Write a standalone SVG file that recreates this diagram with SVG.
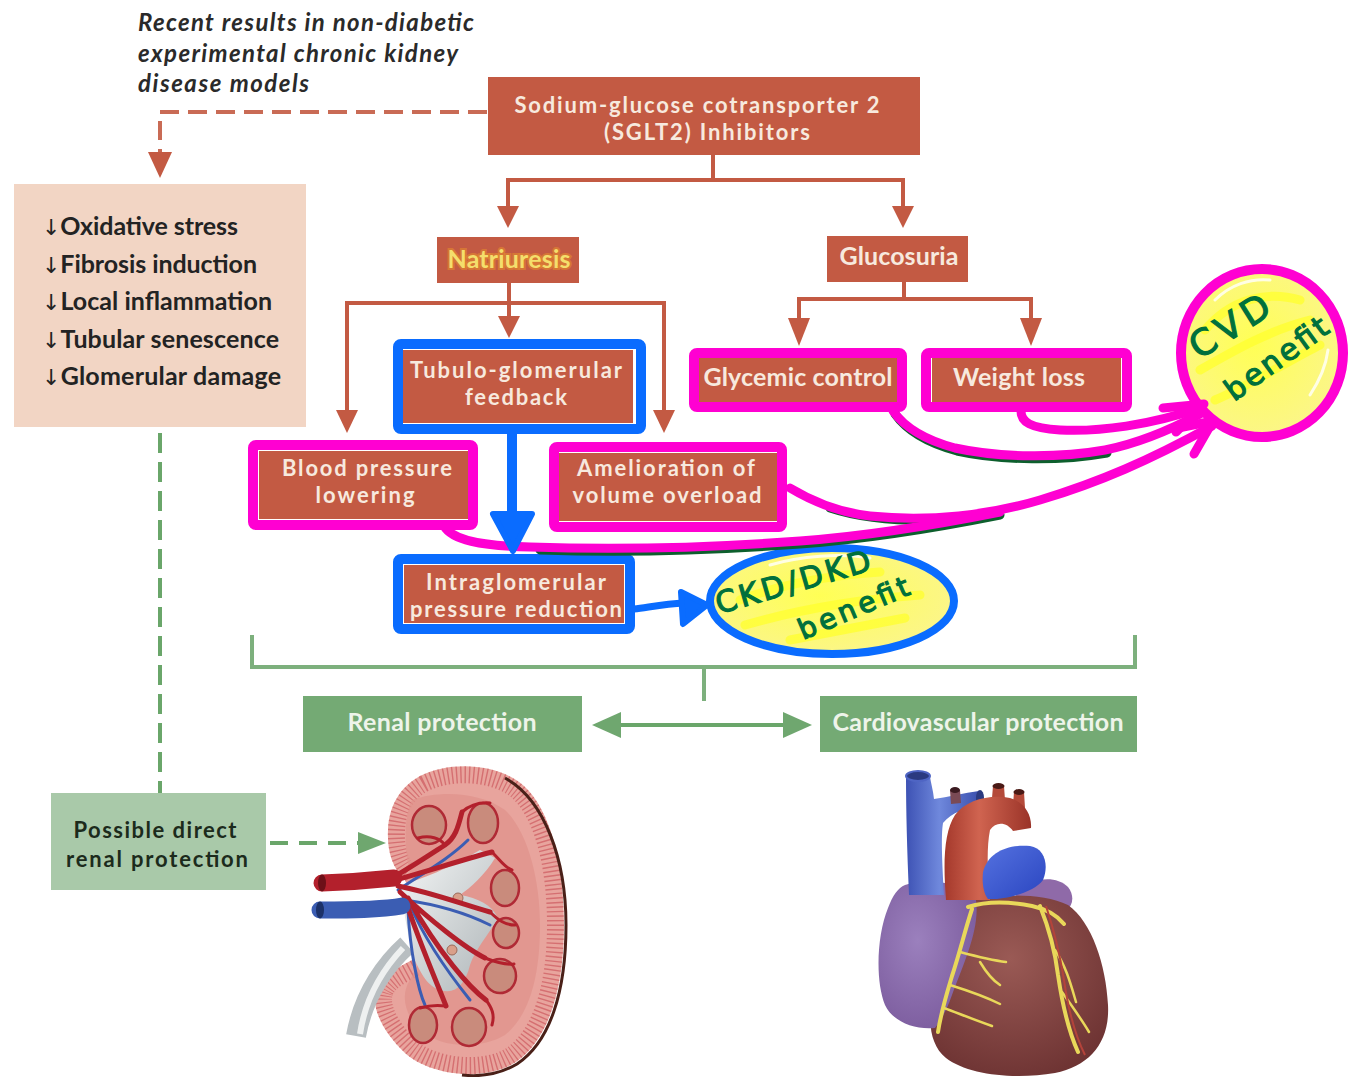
<svg xmlns="http://www.w3.org/2000/svg" width="1350" height="1077" viewBox="0 0 1350 1077">
<defs>
<style>
.lbl{font-family:Lato,"Open Sans","Liberation Sans",sans-serif;font-weight:700;font-size:25px;fill:#f7e9de;text-anchor:middle}
.two{font-size:22px}
.dk{font-family:Lato,"Open Sans","Liberation Sans",sans-serif;font-weight:700;font-size:25px;fill:#232323}
.hdr{font-family:Lato,"Open Sans","Liberation Sans",sans-serif;font-weight:700;font-style:italic;font-size:24px;fill:#2a2a2a}
.box{fill:#c35a43}
.ln{fill:none;stroke:#c35a43;stroke-width:4}
.ah{fill:#c35a43}
.gln{fill:none;stroke:#7db07d;stroke-width:4}
.gah{fill:#6fa76f}
.gbox{fill:#74aa74}
.glbl{font-family:Lato,"Open Sans","Liberation Sans",sans-serif;font-weight:700;font-size:25px;fill:#eef4ea;text-anchor:middle}
.gdk{font-family:Lato,"Open Sans","Liberation Sans",sans-serif;font-weight:700;font-size:22px;fill:#1c2b1c;text-anchor:middle}
.mag{fill:none;stroke:#ff00d2;stroke-width:10;stroke-linejoin:round}
.magc{fill:none;stroke:#ff00d2;stroke-width:9;stroke-linecap:round;stroke-linejoin:round}
.shd{fill:none;stroke:#0d5f2d;stroke-width:9;stroke-linecap:round}
.blu{fill:none;stroke:#0a6cff;stroke-width:10;stroke-linejoin:round}
.hand{font-family:"DejaVu Sans","Liberation Sans",sans-serif;font-weight:400;fill:#00703c;stroke:#00703c;stroke-width:1.2}
.hl{fill:none;stroke:#ffff2e;stroke-width:9;stroke-linecap:round;opacity:.75}
.wh{fill:none;stroke:#ffffff;stroke-width:3;stroke-linecap:round;opacity:.8}
.yel{fill:none;stroke:#e9d85a;stroke-linecap:round;stroke-linejoin:round}
.art{fill:none;stroke:#b3202c;stroke-linecap:round}
.vein{fill:none;stroke:#3b5db3;stroke-linecap:round}
.pyr{fill:#c98b7c;stroke:#b02a35;stroke-width:2.5}
</style>
<linearGradient id="pelvis" x1="0" y1="0" x2="1" y2="1">
<stop offset="0" stop-color="#f4f6f6"/><stop offset="1" stop-color="#aeb5b8"/>
</linearGradient>
<linearGradient id="vcBlue" x1="0" y1="0" x2="1" y2="0">
<stop offset="0" stop-color="#3d52b4"/><stop offset=".45" stop-color="#6f88dc"/><stop offset="1" stop-color="#3a4fae"/>
</linearGradient>
<linearGradient id="paBlue" x1="0" y1="0" x2="1" y2="1">
<stop offset="0" stop-color="#5572e0"/><stop offset="1" stop-color="#2a45c0"/>
</linearGradient>
<linearGradient id="aortaRed" x1="0" y1="0" x2="1" y2="0">
<stop offset="0" stop-color="#a5392c"/><stop offset=".4" stop-color="#d06450"/><stop offset="1" stop-color="#9a3328"/>
</linearGradient>
<radialGradient id="ventr" cx=".45" cy=".35" r=".75">
<stop offset="0" stop-color="#9a5a55"/><stop offset="1" stop-color="#6a3030"/>
</radialGradient>
<radialGradient id="atrium" cx=".4" cy=".4" r=".7">
<stop offset="0" stop-color="#9b80bd"/><stop offset="1" stop-color="#7a5a9c"/>
</radialGradient>
<radialGradient id="yelFill" cx=".45" cy=".45" r=".6">
<stop offset="0" stop-color="#ffff55"/><stop offset="1" stop-color="#fbf58c"/>
</radialGradient>
<clipPath id="kclip">
<path d="M420,776 C452,760 500,764 524,786 C550,810 564,862 564,925 C564,990 548,1040 516,1062 C486,1082 430,1076 405,1053 C384,1033 368,1006 378,986 C386,972 400,967 412,960 C416,930 414,898 404,878 C392,868 387,850 388,830 C389,806 400,787 420,776 Z"/>
</clipPath>
</defs>

<rect width="1350" height="1077" fill="#ffffff"/>

<!-- header note -->
<g id="note">
<text class="hdr" x="138" y="31" textLength="336">Recent results in non-diabetic</text>
<text class="hdr" x="138" y="62" textLength="320">experimental chronic kidney</text>
<text class="hdr" x="138" y="92" textLength="171">disease models</text>
</g>

<!-- printed connectors -->
<g id="connectors">
<path d="M487,112 H160 V152" fill="none" stroke="#c96b55" stroke-width="4" stroke-dasharray="19 9"/>
<polygon class="ah" points="148,152 172,152 160,178"/>
<path class="ln" d="M713,155 V180 M506,180 H905 M508,180 V208 M903,180 V208"/>
<polygon class="ah" points="497,206 519,206 508,228"/>
<polygon class="ah" points="892,206 914,206 903,228"/>
<path class="ln" d="M509,283 V303 M345,303 H666 M347,303 V412 M509,303 V318 M664,303 V412"/>
<polygon class="ah" points="498,316 520,316 509,338"/>
<polygon class="ah" points="336,410 358,410 347,433"/>
<polygon class="ah" points="653,410 675,410 664,433"/>
<path class="ln" d="M904,282 V299 M797,299 H1033 M799,299 V320 M1031,299 V320"/>
<polygon class="ah" points="788,318 810,318 799,346"/>
<polygon class="ah" points="1020,318 1042,318 1031,346"/>
<path d="M160,433 V793" fill="none" stroke="#6aa66a" stroke-width="4" stroke-dasharray="20 9"/>
<path d="M270,843 H360" fill="none" stroke="#6aa66a" stroke-width="4" stroke-dasharray="18 11"/>
<polygon class="gah" points="358,832 386,843 358,854"/>
<path class="gln" d="M252,635 V667 H1135 V635 M704,667 V701"/>
<path d="M616,725 H790" fill="none" stroke="#6aa66a" stroke-width="4"/>
<polygon class="gah" points="592,725 621,712 621,738"/>
<polygon class="gah" points="812,725 783,712 783,738"/>
</g>

<!-- nodes -->
<g id="sglt2">
<rect class="box" x="488" y="77" width="432" height="78"/>
<text class="lbl two" x="697" y="113" textLength="365">Sodium-glucose cotransporter 2</text>
<text class="lbl two" x="707" y="140" textLength="206">(SGLT2) Inhibitors</text>
</g>

<g id="kidney-effects">
<rect x="14" y="184" width="292" height="243" fill="#f2d5c4"/>
<text class="dk" x="42" y="235" textLength="196"><tspan font-family="DejaVu Sans" font-weight="400" font-size="22">↓</tspan>Oxidative stress</text>
<text class="dk" x="42" y="273" textLength="215"><tspan font-family="DejaVu Sans" font-weight="400" font-size="22">↓</tspan>Fibrosis induction</text>
<text class="dk" x="42" y="310" textLength="230"><tspan font-family="DejaVu Sans" font-weight="400" font-size="22">↓</tspan>Local inflammation</text>
<text class="dk" x="42" y="348" textLength="237"><tspan font-family="DejaVu Sans" font-weight="400" font-size="22">↓</tspan>Tubular senescence</text>
<text class="dk" x="42" y="385" textLength="239"><tspan font-family="DejaVu Sans" font-weight="400" font-size="22">↓</tspan>Glomerular damage</text>
</g>

<g id="natriuresis">
<rect class="box" x="437" y="237" width="142" height="46"/>
<text class="lbl" x="509" y="268" textLength="123" style="fill:#f4de6c;stroke:#e8902c;stroke-width:4;stroke-opacity:.55;paint-order:stroke">Natriuresis</text>
</g>

<g id="glucosuria">
<rect class="box" x="827" y="236" width="141" height="46"/>
<text class="lbl" x="899" y="265" textLength="119">Glucosuria</text>
</g>

<g id="tg-feedback">
<rect class="box" x="403" y="350" width="230" height="73"/>
<text class="lbl two" x="516" y="378" textLength="212">Tubulo-glomerular</text>
<text class="lbl two" x="516" y="405" textLength="102">feedback</text>
</g>

<g id="bp-lowering">
<rect class="box" x="259" y="451" width="209" height="68"/>
<text class="lbl two" x="367" y="476" textLength="170">Blood pressure</text>
<text class="lbl two" x="365" y="503" textLength="99">lowering</text>
</g>

<g id="volume-overload">
<rect class="box" x="559" y="453" width="218" height="68"/>
<text class="lbl two" x="666" y="476" textLength="178">Amelioration of</text>
<text class="lbl two" x="667" y="503" textLength="189">volume overload</text>
</g>

<g id="intraglomerular">
<rect class="box" x="404" y="565" width="220" height="58"/>
<text class="lbl two" x="516" y="590" textLength="180">Intraglomerular</text>
<text class="lbl two" x="516" y="617" textLength="212">pressure reduction</text>
</g>

<g id="glycemic">
<rect class="box" x="699" y="358" width="198" height="44"/>
<text class="lbl" x="798" y="386" textLength="189">Glycemic control</text>
</g>

<g id="weight">
<rect class="box" x="932" y="358" width="189" height="44"/>
<text class="lbl" x="1019" y="386" textLength="132">Weight loss</text>
</g>

<g id="renal-protection">
<rect class="gbox" x="303" y="696" width="279" height="56"/>
<text class="glbl" x="442" y="731" textLength="189">Renal protection</text>
</g>

<g id="cv-protection">
<rect class="gbox" x="820" y="696" width="317" height="56"/>
<text class="glbl" x="978" y="731" textLength="291">Cardiovascular protection</text>
</g>

<g id="direct-renal">
<rect x="51" y="793" width="215" height="97" fill="#a9c9a9"/>
<text class="gdk" x="155" y="838" textLength="163">Possible direct</text>
<text class="gdk" x="157" y="867" textLength="182">renal protection</text>
</g>

<!-- kidney illustration -->
<g id="kidney">
<path d="M420,776 C452,760 500,764 524,786 C550,810 564,862 564,925 C564,990 548,1040 516,1062 C486,1082 430,1076 405,1053 C384,1033 368,1006 378,986 C386,972 400,967 412,960 C416,930 414,898 404,878 C392,868 387,850 388,830 C389,806 400,787 420,776 Z" fill="#e8a49d"/>
<g clip-path="url(#kclip)">
<path d="M420,776 C452,760 500,764 524,786 C550,810 564,862 564,925 C564,990 548,1040 516,1062 C486,1082 430,1076 405,1053 C384,1033 368,1006 378,986 C386,972 400,967 412,960 C416,930 414,898 404,878 C392,868 387,850 388,830 C389,806 400,787 420,776 Z" fill="none" stroke="#c4434d" stroke-width="34" stroke-dasharray="1.4 3.2" opacity=".55"/>
<path d="M412,800 C440,790 480,792 505,810 C528,832 540,880 540,925 C540,975 530,1015 505,1035 C480,1050 440,1048 420,1030 C405,1015 400,995 410,980 L420,960 C425,930 422,900 412,880 C405,860 402,820 412,800 Z" fill="#e0928a" opacity=".7"/>
</g>
<path d="M505,778 C545,800 566,860 566,925 C566,992 550,1042 517,1064 C500,1074 480,1077 462,1075" fill="none" stroke="#4a2018" stroke-width="3"/>
<ellipse class="pyr" cx="429" cy="825" rx="17" ry="19"/>
<ellipse class="pyr" cx="483" cy="823" rx="15" ry="20"/>
<ellipse class="pyr" cx="505" cy="888" rx="14" ry="18"/>
<ellipse class="pyr" cx="506" cy="933" rx="13" ry="15"/>
<ellipse class="pyr" cx="500" cy="976" rx="16" ry="17"/>
<ellipse class="pyr" cx="423" cy="1025" rx="14" ry="18"/>
<ellipse class="pyr" cx="469" cy="1027" rx="17" ry="19"/>
<path d="M400,885 C420,880 450,868 480,850 L495,858 C485,875 470,888 460,895 C478,898 492,905 498,918 C488,935 475,950 470,965 C465,985 455,995 440,990 C425,985 420,970 412,955 C408,930 402,905 400,885 Z" fill="url(#pelvis)"/>
<path d="M407,945 C388,962 364,992 356,1036" fill="none" stroke="#b8bec1" stroke-width="20"/>
<path d="M403,948 C386,966 366,994 360,1034" fill="none" stroke="#eef0f0" stroke-width="6"/>
<circle cx="458" cy="898" r="5" fill="#d9a08a" stroke="#9b6a5a"/>
<circle cx="452" cy="950" r="5" fill="#d9a08a" stroke="#9b6a5a"/>
<path class="vein" stroke-width="3" d="M398,890 C425,872 450,858 468,840 M405,900 C440,905 470,915 490,925 M410,905 C425,940 450,975 470,1000 M408,910 C410,950 418,990 425,1005"/>
<path class="art" stroke-width="5" d="M392,878 C410,868 428,856 445,845 C455,838 458,828 462,812 M395,880 C425,872 455,862 492,852 M398,886 C430,892 465,905 490,912 M400,892 C430,920 465,948 485,958 M404,896 C420,945 438,985 446,1006 M408,898 C440,955 470,988 486,1000"/>
<path class="art" stroke-width="3" d="M445,845 C440,838 430,835 418,838 M462,812 C470,805 478,802 490,803 M492,852 C500,860 505,868 512,870 M490,912 C498,920 505,925 515,925 M485,958 C495,962 505,965 514,964 M446,1006 C438,1005 430,1005 420,1008 M486,1000 C492,1008 495,1015 492,1025"/>
<path class="vein" stroke-width="17" d="M320,910 C350,910 380,910 402,906"/>
<path class="art" stroke-width="17" d="M322,883 C350,882 375,880 394,878"/>
<ellipse cx="322" cy="883" rx="4" ry="8.5" fill="#6d1018"/>
<ellipse cx="320" cy="910" rx="4" ry="8.5" fill="#1c3168"/>
</g>

<!-- heart illustration -->
<g id="heart">
<path d="M1015,893 C1030,878 1055,874 1068,887 C1078,900 1070,915 1050,918 C1035,918 1022,910 1015,893 Z" fill="#8f6aa8"/>
<path d="M960,905 C990,893 1040,892 1068,905 C1092,922 1106,965 1108,1005 C1110,1042 1090,1066 1055,1073 C1015,1080 968,1075 946,1058 C930,1045 927,1020 934,998 C942,972 952,935 960,905 Z" fill="url(#ventr)"/>
<path d="M905,885 C925,878 958,882 975,895 C982,925 965,960 952,995 C946,1012 940,1022 935,1028 C915,1030 893,1022 885,1005 C875,980 877,935 888,908 C893,895 898,888 905,885 Z" fill="url(#atrium)"/>
<path d="M906,775 C906,810 907,850 909,895 L944,895 C942,860 941,835 943,823 C952,812 966,808 980,806 L979,791 C964,793 948,797 934,799 C933,790 931,783 930,777 Z" fill="url(#vcBlue)"/>
<ellipse cx="918" cy="776" rx="12" ry="5" fill="#2b3a80" stroke="#4f65c4" stroke-width="2"/>
<ellipse cx="980" cy="798" rx="4" ry="8" fill="#2b3a80"/>
<path d="M950,790 L960,790 L961,803 L951,804 Z" fill="#7a4a55"/>
<ellipse cx="955" cy="790" rx="5" ry="3" fill="#3a1a20"/>
<path d="M992,798 L993,786 L1004,786 L1005,800 Z M1013,805 L1014,792 L1024,792 L1025,808 Z" fill="#b44a3a"/>
<ellipse cx="998.5" cy="786" rx="6" ry="3" fill="#4a1a16"/>
<ellipse cx="1019" cy="792" rx="5.5" ry="3" fill="#4a1a16"/>
<path d="M946,900 C943,862 944,832 955,815 C966,800 990,794 1010,798 C1024,802 1032,814 1031,828 L1013,831 C1007,822 996,821 990,830 C986,850 988,878 990,900 Z" fill="url(#aortaRed)"/>
<path d="M983,872 C988,852 1008,844 1030,846 C1045,848 1049,866 1043,880 C1034,893 1003,900 988,899 C983,893 982,882 983,872 Z" fill="url(#paBlue)"/>
<path class="yel" stroke-width="4" d="M968,907 C990,900 1012,902 1032,906 C1046,909 1056,914 1064,924 M1040,906 C1048,926 1055,950 1058,975 C1062,1002 1068,1030 1078,1052 M972,909 C965,930 960,952 952,976 C946,996 941,1012 938,1032"/>
<path class="yel" stroke-width="2.5" d="M1055,950 C1066,966 1071,985 1076,1002 M1062,992 C1072,1006 1082,1020 1089,1032 M960,952 C975,956 990,960 1006,962 M950,985 C966,990 984,996 1000,1004 M944,1008 C960,1014 975,1020 992,1026 M980,962 C986,972 992,980 1000,985"/>
<path d="M1046,906 C1054,930 1060,955 1064,980 C1068,1008 1075,1035 1085,1055" fill="none" stroke="#b4433a" stroke-width="2"/>
</g>

<!-- hand-drawn highlights -->
<g id="highlight-outlines">
<rect class="blu" x="398" y="344" width="243" height="85" rx="3"/>
<rect class="blu" x="398" y="559" width="232" height="70" rx="3"/>
<rect class="mag" x="253" y="445" width="220" height="80" rx="3"/>
<rect class="mag" x="554" y="447" width="228" height="80" rx="3"/>
<rect class="mag" x="694" y="353" width="208" height="54" rx="3"/>
<rect class="mag" x="926" y="353" width="201" height="54" rx="3"/>
</g>

<g id="cvd-benefit">
<ellipse cx="1262" cy="353" rx="81" ry="84" fill="url(#yelFill)" stroke="#ff00d2" stroke-width="10"/>
<path class="hl" d="M1205,330 C1230,300 1265,290 1300,300 M1200,370 C1235,350 1270,330 1310,320 M1215,400 C1250,385 1290,360 1320,345"/>
<path class="wh" d="M1215,300 C1230,285 1250,278 1270,280 M1310,395 C1320,380 1326,365 1328,350"/>
<text class="hand" font-size="36" transform="translate(1199,360) rotate(-32)" textLength="88">CVD</text>
<text class="hand" font-size="30" transform="translate(1234,402) rotate(-36)" textLength="120">benefit</text>
</g>

<g id="ckd-benefit">
<ellipse cx="832" cy="601" rx="122" ry="53" fill="url(#yelFill)" stroke="#0a6cff" stroke-width="8"/>
<path class="hl" d="M740,600 C780,585 830,575 880,572 M745,625 C790,612 850,600 920,595 M790,640 C830,632 870,625 905,618"/>
<path class="wh" d="M770,565 C800,556 840,553 870,558"/>
<text class="hand" font-size="30" transform="translate(719,614) rotate(-16)" textLength="160">CKD/DKD</text>
<text class="hand" font-size="28" transform="translate(803,640) rotate(-23)" textLength="118">benefit</text>
</g>

<g id="drawn-connectors">
<path class="shd" d="M895,414 C907,431 927,443 957,451 C1002,461 1062,461 1107,453"/>
<path class="shd" d="M540,550 C630,553 720,550 800,544 C880,538 950,525 1000,515"/>
<path class="shd" d="M830,508 C860,518 900,522 950,520"/>
<path class="magc" d="M893,411 C905,428 925,440 955,448 C1000,458 1060,458 1105,450 C1140,443 1170,430 1200,414"/>
<path class="magc" d="M1021,411 C1021,422 1030,428 1060,430 C1100,432 1150,425 1200,408"/>
<path class="magc" d="M790,488 C810,500 835,512 870,516 C930,522 990,515 1040,500 C1100,482 1150,460 1212,426"/>
<path class="magc" d="M444,526 C452,540 480,546 530,547 C620,550 720,547 800,541 C880,535 950,522 1000,512"/>
<path class="magc" d="M1163,408 L1204,404 L1176,432"/>
<path class="magc" d="M1178,428 L1213,421 L1194,454"/>
<path d="M512,433 V514" fill="none" stroke="#0a6cff" stroke-width="10"/>
<polygon points="493,514 532,514 513,551" fill="#0a6cff" stroke="#0a6cff" stroke-width="6" stroke-linejoin="round"/>
<path d="M634,609 C650,607 665,604 684,603" fill="none" stroke="#0a6cff" stroke-width="7" stroke-linecap="round"/>
<polygon points="681,592 707,605 683,624" fill="#0a6cff" stroke="#0a6cff" stroke-width="6" stroke-linejoin="round"/>
</g>
</svg>
